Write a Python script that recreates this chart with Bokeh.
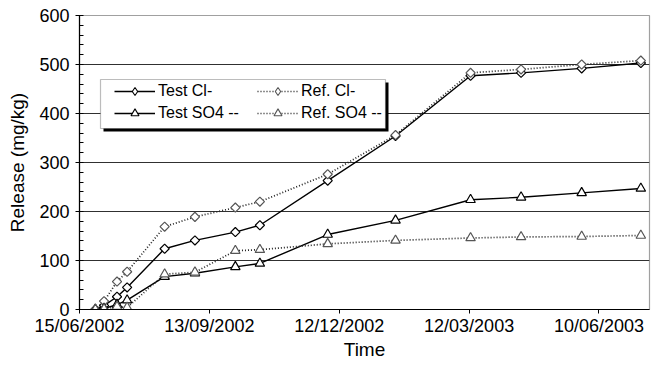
import pandas as pd
from datetime import datetime
from bokeh.plotting import figure
from bokeh.models import (Range1d, FixedTicker, DatetimeTickFormatter, Legend,
                          LegendItem, BoxAnnotation, ColumnDataSource)
from bokeh.embed import file_html
from bokeh.resources import INLINE

# ---- data ----
dates = ["2002-06-26", "2002-07-02", "2002-07-11", "2002-07-18", "2002-08-13",
         "2002-09-03", "2002-10-01", "2002-10-18", "2002-12-04", "2003-01-20",
         "2003-03-13", "2003-04-17", "2003-05-29", "2003-07-09"]
test_cl = [0, 8, 26, 45, 124, 141, 158, 172, 263, 354, 477, 483, 492, 503]
ref_cl = [0, 17, 57, 77, 169, 189, 208, 220, 276, 356, 483, 490, 500, 508]
test_so4 = [0, 2, 10, 19, 67, 74, 87, 94, 153, 182, 224, 229, 238, 247]
ref_so4 = [0, 1, 6, 4, 72, 76, 120, 122, 134, 141, 146, 148, 149, 151]
x_tick_dates = ["2002-06-15", "2002-09-13", "2002-12-12", "2003-03-12", "2003-06-10"]
y_ticks = [0, 100, 200, 300, 400, 500, 600]
grid_values = [100, 200, 300, 400, 500]

FONT = "Liberation Sans"

src = ColumnDataSource(dict(x=pd.to_datetime(dates), test_cl=test_cl, ref_cl=ref_cl,
                            test_so4=test_so4, ref_so4=ref_so4))

p = figure(width=651, height=362, output_backend="svg", toolbar_location=None,
           x_axis_type="datetime",
           x_range=Range1d(datetime(2002, 6, 15), datetime(2003, 7, 15)),
           y_range=Range1d(0, 600),
           min_border_left=79, min_border_right=2, min_border_top=15, min_border_bottom=48)
p.outline_line_color = "#a0a0a0"
p.outline_line_width = 1.2
p.background_fill_color = "white"
p.border_fill_color = "white"

# axes
xticks = [pd.Timestamp(d).value // 10**6 for d in x_tick_dates]
p.xaxis.ticker = FixedTicker(ticks=xticks, minor_ticks=[])
fmt = "%d/%m/%Y"
p.xaxis.formatter = DatetimeTickFormatter(days=fmt, months=fmt, years=fmt, hours=fmt,
                                          hourmin=fmt, minutes=fmt, minsec=fmt,
                                          seconds=fmt, milliseconds=fmt, microseconds=fmt)
p.yaxis.ticker = FixedTicker(ticks=y_ticks,
                             minor_ticks=[v for v in range(0, 601, 20) if v % 100])
for ax in (p.xaxis[0], p.yaxis[0]):
    ax.axis_line_color = "black"
    ax.axis_line_width = 1.2
    ax.major_tick_line_color = "black"
    ax.minor_tick_line_color = "black"
    ax.major_label_text_font = FONT
    ax.major_label_text_font_size = "18px"
    ax.major_label_text_color = "black"
    ax.axis_label_text_font = FONT
    ax.axis_label_text_font_style = "normal"
    ax.axis_label_text_color = "black"
p.xaxis.major_tick_in = 0
p.xaxis.major_tick_out = 4
p.xaxis.major_label_standoff = 2
p.xaxis.axis_label = "Time"
p.xaxis.axis_label_text_font_size = "19px"
p.xaxis.axis_label_standoff = 0
p.yaxis.major_tick_in = 4
p.yaxis.major_tick_out = 4
p.yaxis.minor_tick_in = 4
p.yaxis.minor_tick_out = 0
p.yaxis.major_label_standoff = 6
p.yaxis.axis_label = "Release (mg/kg)"
p.yaxis.axis_label_text_font_size = "19px"
p.yaxis.axis_label_standoff = 8

p.xgrid.visible = False
p.ygrid.ticker = FixedTicker(ticks=grid_values)
p.ygrid.grid_line_color = "#303030"
p.ygrid.grid_line_width = 1.1

# series
DIAMOND = 0.785398
l1 = p.line("x", "test_cl", source=src, line_color="black", line_width=1.4)
s1 = p.scatter("x", "test_cl", source=src, marker="square", angle=DIAMOND, size=6.5,
               fill_color="white", line_color="black", line_width=1.2)
l2 = p.line("x", "ref_cl", source=src, line_color="#222222", line_width=1.7, line_dash="1 2")
s2 = p.scatter("x", "ref_cl", source=src, marker="square", angle=DIAMOND, size=6.5,
               fill_color="white", line_color="#555555", line_width=1.2)
l3 = p.line("x", "test_so4", source=src, line_color="black", line_width=1.4)
s3 = p.scatter("x", "test_so4", source=src, marker="triangle", size=9.5,
               fill_color="white", line_color="black", line_width=1.2)
l4 = p.line("x", "ref_so4", source=src, line_color="#222222", line_width=1.7, line_dash="1 2")
s4 = p.scatter("x", "ref_so4", source=src, marker="triangle", size=9.5,
               fill_color="white", line_color="#555555", line_width=1.2)

# legend-only marker glyphs (a single invisible NaN point each)
nan = float("nan")
def legend_marker(marker, color):
    return p.scatter(x=[nan], y=[nan], marker=marker, size=7, fill_color="white",
                     line_color=color, line_width=1.1)
m1 = legend_marker("diamond", "black")
m2 = legend_marker("diamond", "#555555")
m3 = legend_marker("triangle", "black")
m4 = legend_marker("triangle", "#555555")

# legend frame with shadow
shadow = BoxAnnotation(left=24, right=309, top=227, bottom=178,
                       left_units="screen", right_units="screen",
                       top_units="screen", bottom_units="screen",
                       fill_color="black", fill_alpha=1, line_alpha=0)
box = BoxAnnotation(left=21, right=306, top=230, bottom=181,
                    left_units="screen", right_units="screen",
                    top_units="screen", bottom_units="screen",
                    fill_color="white", fill_alpha=1, line_color="#222222", line_width=1.2)
p.add_layout(shadow)
p.add_layout(box)

def make_legend(items, loc):
    return Legend(items=items, location=loc, orientation="vertical", padding=0, spacing=2,
                  margin=0, glyph_width=41, glyph_height=20, label_height=20,
                  label_standoff=3, border_line_alpha=0, background_fill_alpha=0,
                  label_text_font=FONT, label_text_font_size="16px",
                  label_text_color="black")

leg1 = make_legend([LegendItem(label="Test Cl-", renderers=[l1, m1]),
                    LegendItem(label="Test SO4 --", renderers=[l3, m3])], (35, 186))
leg2 = make_legend([LegendItem(label="Ref. Cl-", renderers=[l2, m2]),
                    LegendItem(label="Ref. SO4 --", renderers=[l4, m4])], (178, 186))
p.add_layout(leg1, "center")
p.add_layout(leg2, "center")

open("out.html", "w").write(file_html(p, INLINE))
